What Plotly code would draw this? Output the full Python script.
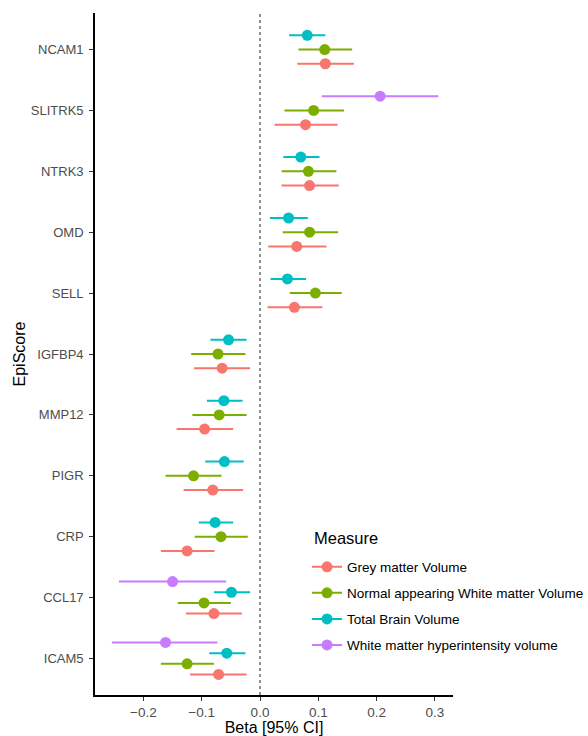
import plotly.graph_objects as go

# EpiScores from top to bottom
episcores = ["NCAM1", "SLITRK5", "NTRK3", "OMD", "SELL", "IGFBP4",
             "MMP12", "PIGR", "CRP", "CCL17", "ICAM5"]

measures = ["Grey matter Volume", "Normal appearing White matter Volume",
            "Total Brain Volume", "White matter hyperintensity volume"]
colors = ["#F8766D", "#7CAE00", "#00BFC4", "#C77CFF"]

N = None
# beta estimates per measure (None = not shown), in episcores order
grey_beta = [0.112, 0.078, 0.085, 0.063, 0.059, -0.065, -0.095, -0.081, -0.125, -0.079, -0.071]
grey_lo   = [0.064, 0.025, 0.037, 0.014, 0.013, -0.113, -0.143, -0.131, -0.170, -0.127, -0.120]
grey_hi   = [0.161, 0.133, 0.135, 0.114, 0.107, -0.017, -0.046, -0.029, -0.078, -0.031, -0.023]

nawm_beta = [0.111, 0.092, 0.083, 0.085, 0.095, -0.072, -0.070, -0.114, -0.067, -0.096, -0.125]
nawm_lo   = [0.066, 0.042, 0.037, 0.039, 0.051, -0.118, -0.116, -0.162, -0.112, -0.141, -0.170]
nawm_hi   = [0.158, 0.144, 0.131, 0.134, 0.140, -0.025, -0.023, -0.066, -0.021, -0.050, -0.079]

tbv_beta = [0.081, N, 0.070, 0.049, 0.047, -0.054, -0.062, -0.061, -0.077, -0.049, -0.057]
tbv_lo   = [0.050, N, 0.040, 0.017, 0.018, -0.085, -0.091, -0.094, -0.105, -0.079, -0.087]
tbv_hi   = [0.112, N, 0.102, 0.082, 0.079, -0.023, -0.030, -0.028, -0.046, -0.017, -0.025]

wmh_beta = [N, 0.206, N, N, N, N, N, N, N, -0.150, -0.162]
wmh_lo   = [N, 0.106, N, N, N, N, N, N, N, -0.242, -0.254]
wmh_hi   = [N, 0.306, N, N, N, N, N, N, N, -0.058, -0.073]

betas = [grey_beta, nawm_beta, tbv_beta, wmh_beta]
los = [grey_lo, nawm_lo, tbv_lo, wmh_lo]
his = [grey_hi, nawm_hi, tbv_hi, wmh_hi]

x_ticks = [-0.2, -0.1, 0.0, 0.1, 0.2, 0.3]

n_cat = len(episcores)
cat_pos = [n_cat - i for i in range(n_cat)]  # NCAM1 at top
dodge_w = 0.7

# dodge offsets per category based on present measures
offsets = [[None] * n_cat for _ in measures]
for i in range(n_cat):
    present = [m for m in range(len(measures)) if betas[m][i] is not None]
    n = len(present)
    for k, m in enumerate(present):
        offsets[m][i] = (k - (n - 1) / 2) * dodge_w / n

fig = go.Figure()
for m, name in enumerate(measures):
    xs, ys, mcols = [], [], []
    for i in range(n_cat):
        if betas[m][i] is None:
            continue
        y = cat_pos[i] + offsets[m][i]
        xs += [betas[m][i], los[m][i], his[m][i], None]
        ys += [y, y, y, None]
        mcols += [colors[m], "rgba(0,0,0,0)", "rgba(0,0,0,0)", "rgba(0,0,0,0)"]
    fig.add_trace(go.Scatter(
        x=xs, y=ys, mode="lines+markers", name=name,
        legendgroup=name,
        line=dict(color=colors[m], width=2),
        marker=dict(color=mcols, size=11, line=dict(width=0)),
        hoverinfo="skip",
    ))

fig.add_shape(type="line", xref="x", yref="paper", x0=0, x1=0, y0=0, y1=1,
              line=dict(color="#222222", width=1, dash="3px,3px"), layer="below")

fig.add_annotation(text="Measure", xref="paper", yref="paper",
                   x=0.605, y=0.2298, xanchor="left", yanchor="middle",
                   showarrow=False, font=dict(size=16.5, color="black"))

font_family = "Liberation Sans, Arial, sans-serif"
fig.update_layout(
    width=588, height=736,
    margin=dict(l=95, r=135, t=13, b=41, autoexpand=False),
    plot_bgcolor="white", paper_bgcolor="white",
    font=dict(family=font_family, color="black"),
    showlegend=True,
    legend=dict(
        xref="paper", yref="paper",
        x=0.5922, xanchor="left", y=0.2104, yanchor="top",
        font=dict(size=13.5, color="black"),
        tracegroupgap=5.5, bgcolor="rgba(0,0,0,0)",
    ),
    xaxis=dict(
        range=[-0.283, 0.331], tickvals=x_ticks, tickformat=".1f",
        showgrid=False, zeroline=False, automargin=False,
        showline=True, linecolor="black", linewidth=1.6,
        ticks="outside", ticklen=4, tickcolor="#333333", tickwidth=1,
        tickfont=dict(size=13.5, color="#4D4D4D"),
        title=dict(text="Beta [95% CI]", font=dict(size=16, color="black"), standoff=2),
    ),
    yaxis=dict(
        range=[0.4, n_cat + 0.6], tickvals=cat_pos, ticktext=episcores,
        showgrid=False, zeroline=False, automargin=False,
        showline=True, linecolor="black", linewidth=1.6,
        ticks="outside", ticklen=4, tickcolor="#333333", tickwidth=1,
        ticklabelstandoff=3,
        tickfont=dict(size=13, color="#4D4D4D"),
        title=dict(text="EpiScore", font=dict(size=16, color="black"), standoff=1),
    ),
)

fig.write_html("out.html", config={"displayModeBar": False},
               post_script="document.body.style.margin='0';document.body.style.overflow='hidden';")
